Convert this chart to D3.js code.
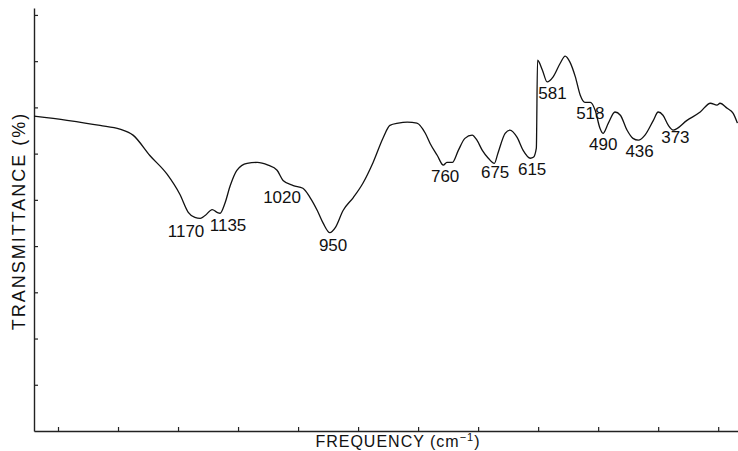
<!DOCTYPE html>
<html>
<head>
<meta charset="utf-8">
<script src="https://cdn.jsdelivr.net/npm/d3@7"></script>
<style>
  body { margin: 0; background: #fff; }
  svg { display: block; }
  text { font-family: "Liberation Sans", Arial, sans-serif; fill: #111; }
</style>
</head>
<body>
<div id="chart"></div>
<script>
// IR spectrum, frequency in cm-1 (decreasing to the right), transmittance in %
var freq = [1440, 1385, 1330, 1297, 1275, 1247, 1218, 1197, 1183, 1172, 1163, 1155, 1143, 1135, 1130,
  1122, 1113, 1102, 1085, 1068, 1050, 1035, 1025, 1008, 992, 980, 968, 958, 947, 938, 925, 908, 892,
  875, 858, 847, 833, 818, 802, 788, 780, 768, 758, 752, 743, 733, 722, 710, 702, 693, 683, 673, 667,
  655, 647, 635, 625, 613, 608, 603, 601, 593, 585, 575, 563, 555, 547, 538, 530, 522, 513, 505, 497,
  492, 483, 472, 463, 452, 442, 433, 422, 408, 400, 392, 383, 375, 352, 330, 313, 302, 297, 285, 275, 268];
var trans = [68.1, 67.2, 66.1, 65.3, 64.0, 59.6, 55.5, 51.2, 47.3, 46.2, 46.0, 46.6, 47.9, 47.3, 47.1,
  49.2, 53.1, 56.4, 57.9, 58.1, 57.5, 56.4, 54.2, 53.1, 52.5, 50.5, 47.7, 44.9, 42.9, 44.0, 47.7, 50.5, 53.6,
  58.1, 63.5, 66.1, 66.6, 66.8, 66.6, 64.4, 62.2, 59.6, 57.5, 58.1, 58.1, 60.7, 63.3, 64.0, 62.9, 60.7, 59.0, 57.9, 60.1,
  64.4, 65.1, 63.5, 60.7, 59.0, 59.2, 61.2, 80.2, 78.1, 75.5, 76.6, 79.6, 81.1, 79.8, 76.6, 72.7, 71.1, 71.1, 69.4, 65.5,
  64.4, 66.6, 69.0, 68.3, 65.1, 63.3, 62.9, 64.0, 67.2, 69.0, 68.3, 66.1, 65.1, 67.2, 69.0, 70.9, 70.5, 70.9, 69.8, 68.7, 66.6];

// band labels: frequency and transmittance at the band
var bandFreq = [1170, 1135, 1020, 950, 760, 675, 615, 581, 518, 490, 436, 373];
var bandTrans = [46.0, 47.3, 54.2, 42.9, 57.5, 57.9, 59.0, 75.5, 71.1, 64.4, 62.9, 65.1];

var xTicks = [1400, 1300, 1200, 1100, 1000, 900, 800, 700, 600, 500, 400, 300];
var yTicks = [10, 20, 30, 40, 50, 60, 70, 80, 90];

var width = 738, height = 451;

var x = d3.scaleLinear().domain([1440, 267]).range([34, 738]);
var y = d3.scaleLinear().domain([0, 91.5]).range([431, 8]);

var svg = d3.select("#chart").append("svg")
  .attr("width", width)
  .attr("height", height);

// axes (ticks point inward, no numbers)
var yAxis = svg.append("g")
  .attr("transform", "translate(34,0)")
  .call(d3.axisRight(y).tickValues(yTicks).tickSize(4).tickSizeOuter(0).tickFormat(""));

var xAxis = svg.append("g")
  .attr("transform", "translate(0,431)")
  .call(d3.axisTop(x).tickValues(xTicks).tickSize(4).tickSizeOuter(0).tickFormat(""));

svg.selectAll(".domain").attr("stroke", "#222").attr("stroke-width", 1.4);
svg.selectAll(".tick line").attr("stroke", "#222").attr("stroke-width", 1.2);

// spectrum
var pts = freq.map(function (f, i) { return [f, trans[i]]; });
var line = d3.line()
  .x(function (d) { return x(d[0]); })
  .y(function (d) { return y(d[1]); })
  .curve(d3.curveMonotoneX);

svg.append("path")
  .datum(pts)
  .attr("fill", "none")
  .attr("stroke", "#111")
  .attr("stroke-width", 1.3)
  .attr("d", line);

// label placement tweaks (pixels)
var nudge = {
  1170: [-10, 19], 1135: [11, 19], 1020: [-4, 23], 950: [5, 18],
  675: [2, 15], 373: [1, 13], 490: [-1, 17]
};

svg.append("g").selectAll("text")
  .data(bandFreq)
  .join("text")
  .attr("x", function (f) { return x(f) + (nudge[f] ? nudge[f][0] : 3); })
  .attr("y", function (f, i) { return y(bandTrans[i]) + (nudge[f] ? nudge[f][1] : 17); })
  .attr("text-anchor", "middle")
  .attr("font-size", 17)
  .text(function (f) { return f; });

// axis titles
svg.append("text")
  .attr("transform", "translate(25,221) rotate(-90)")
  .attr("text-anchor", "middle")
  .attr("font-size", 18)
  .attr("letter-spacing", 2)
  .text("TRANSMITTANCE (%)");

var xt = svg.append("text")
  .attr("x", 398)
  .attr("y", 447)
  .attr("text-anchor", "middle")
  .attr("font-size", 16)
  .attr("letter-spacing", 1);
xt.append("tspan").text("FREQUENCY (cm");
xt.append("tspan").attr("font-size", 11).attr("dy", -6).text("\u22121");
xt.append("tspan").attr("dy", 6).text(")");
</script>
</body>
</html>
